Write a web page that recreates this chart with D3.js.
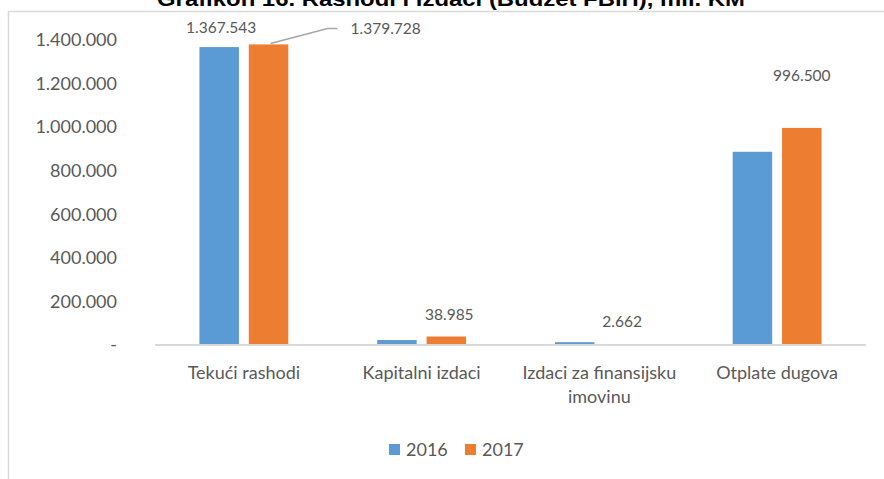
<!DOCTYPE html>
<html>
<head>
<meta charset="utf-8">
<script src="https://cdn.jsdelivr.net/npm/d3@7"></script>
<style>
  body { margin: 0; background: #fff; }
  svg text { fill: #595959; }
</style>
</head>
<body>
<svg id="chart" width="884" height="479"></svg>
<script>
// data (mil. KM shown in thousands separators)
const categories = [["Tekući rashodi"], ["Kapitalni izdaci"], ["Izdaci za finansijsku", "imovinu"], ["Otplate dugova"]]
const series = ["2016", "2017"]
const values2016 = [1367543, 22800, 13000, 887000]
const values2017 = [1379728, 38985, 2662, 996500]
const yTicks = [0, 200000, 400000, 600000, 800000, 1000000, 1200000, 1400000]
const colors = ["#5B9BD5", "#ED7D31"]
const title = "Grafikon 16. Rashodi i izdaci (Budžet FBiH), mil. KM"

const svg = d3.select("#chart")
const font = "Lato, 'Open Sans', sans-serif"

// chart frame (only top and left border are visible)
svg.append("path")
  .attr("d", "M8.5,479V11.5H884")
  .attr("fill", "none")
  .attr("stroke", "#d9d9d9")
  .attr("stroke-width", 1.5)

// title sits above the frame and is clipped by the top edge, as in the original
svg.append("text")
  .attr("x", 157)
  .attr("y", 6)
  .attr("textLength", 588)
  .attr("lengthAdjust", "spacingAndGlyphs")
  .style("font-family", "'Liberation Sans', Arial, sans-serif")
  .style("font-weight", "bold")
  .style("font-size", "20px")
  .style("fill", "#000")
  .text(title)

const x0 = d3.scaleBand()
  .domain(d3.range(categories.length))
  .range([155, 866])
  .paddingInner(0.5)
  .paddingOuter(0.25)

const x1 = d3.scaleBand()
  .domain(series)
  .range([0, x0.bandwidth()])
  .paddingInner(0.2)

const y = d3.scaleLinear()
  .domain([0, 1400000])
  .range([345, 40])

const fmt = v => v === 0 ? "-" : d3.format(",")(v).replace(/,/g, ".")

// y axis labels (no axis line)
const yAxis = svg.append("g")
  .attr("transform", "translate(117,0)")
  .call(d3.axisLeft(y).tickValues(yTicks).tickSize(0).tickPadding(0).tickFormat(fmt))
yAxis.select(".domain").remove()
yAxis.selectAll("text")
  .style("font-family", font)
  .style("font-size", "18px")
  .style("fill", "#595959")

const rows = categories.map((c, i) => ({ i, vals: [values2016[i], values2017[i]] }))

const groups = svg.append("g").selectAll("g")
  .data(rows)
  .join("g")
  .attr("transform", d => "translate(" + x0(d.i) + ",0)")

groups.selectAll("rect")
  .data(d => d.vals.map((v, k) => ({ s: series[k], v, k, i: d.i })))
  .join("rect")
  .attr("x", d => x1(d.s))
  .attr("width", x1.bandwidth())
  .attr("y", d => y(d.v))
  .attr("height", d => y(0) - y(d.v))
  .attr("fill", d => colors[d.k])

// x baseline
svg.append("line")
  .attr("x1", 155).attr("x2", 866)
  .attr("y1", y(0)).attr("y2", y(0))
  .attr("stroke", "#d9d9d9")
  .attr("stroke-width", 2)

// category labels
const xAxis = svg.append("g")
categories.forEach((lines, i) => {
  const t = xAxis.append("text")
    .attr("x", x0(i) + x0.bandwidth() / 2)
    .attr("y", 379)
    .attr("text-anchor", "middle")
    .style("font-family", font)
    .style("font-size", "18px")
  lines.forEach((l, j) => {
    t.append("tspan")
      .attr("x", x0(i) + x0.bandwidth() / 2)
      .attr("dy", j === 0 ? 0 : 24)
      .text(l)
  })
})

// data labels, as placed in the original (some moved by hand)
const labels = [
  { i: 0, k: 0, dx: 2, dy: -14 },
  { i: 0, k: 1, leader: true },
  { i: 1, k: 1, dx: 3, dy: -17 },
  { i: 2, k: 1, dx: -2, dy: -17 },
  { i: 3, k: 1, dx: 0, dy: -47 }
]
const vals = [values2016, values2017]
const bx = (i, k) => x0(i) + x1(series[k]) + x1.bandwidth() / 2
const lab = svg.append("g")
labels.forEach(l => {
  const cx = bx(l.i, l.k)
  const top = y(vals[l.k][l.i])
  if (l.leader) {
    lab.append("path")
      .attr("d", "M" + (cx + 2) + "," + (top - 1) + "L" + (cx + 59) + "," + (top - 16) + "h10")
      .attr("fill", "none")
      .attr("stroke", "#a6a6a6")
      .attr("stroke-width", 1.5)
    lab.append("text")
      .attr("x", cx + 82)
      .attr("y", top - 10)
      .style("font-family", font)
      .style("font-size", "15.5px")
      .text(fmt(vals[l.k][l.i]))
  } else {
    lab.append("text")
      .attr("x", cx + l.dx)
      .attr("y", top + l.dy)
      .attr("text-anchor", "middle")
      .style("font-family", font)
      .style("font-size", "15.5px")
      .text(fmt(vals[l.k][l.i]))
  }
})

// legend
const legend = svg.append("g").attr("transform", "translate(389,444)")
series.forEach((s, k) => {
  const g = legend.append("g").attr("transform", "translate(" + (k * 76) + ",0)")
  g.append("rect").attr("width", 11).attr("height", 11).attr("fill", colors[k])
  g.append("text")
    .attr("x", 17)
    .attr("y", 12)
    .style("font-family", font)
    .style("font-size", "18px")
    .text(s)
})
</script>
</body>
</html>
